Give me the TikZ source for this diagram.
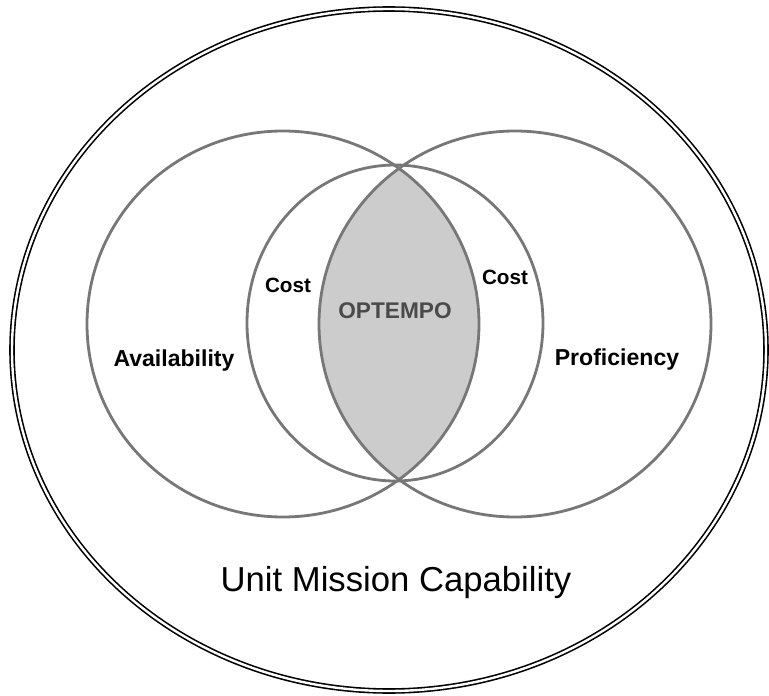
\documentclass[tikz,border=0pt]{standalone}
\usepackage{fontspec}
\setmainfont{Liberation Sans}
\usetikzlibrary{positioning}
\definecolor{ringgray}{HTML}{777777}
\definecolor{lensgray}{HTML}{CCCCCC}
\definecolor{optgray}{HTML}{4A4A4A}

\tikzset{
  ring/.style={draw=ringgray, line width=2.1pt},
  venntext/.style={font=\bfseries\fontsize{17.3}{20}\selectfont, inner sep=0pt},
  costtext/.style={font=\bfseries\fontsize{15.5}{18}\selectfont, inner sep=0pt}
}

\begin{document}
\begin{tikzpicture}[x=0.75pt,y=-0.75pt]
        \useasboundingbox (0,0) rectangle (769,696);

        \begin{scope}
          \clip (283,324) ellipse [x radius=196, y radius=193];
          \fill[lensgray] (515,324) ellipse [x radius=196, y radius=193];
        \end{scope}

        \draw[ring] (283,324) ellipse [x radius=196, y radius=193];
        \draw[ring] (515,324) ellipse [x radius=196, y radius=193];
        \draw[ring] (395,323) ellipse [x radius=148, y radius=158];

        \draw[double=white, double distance=1.8pt, line width=1.2pt]
        (389,350) ellipse [x radius=377, y radius=341];

        \node[venntext] (avail) at (174,361) {Availability};
        \node[venntext] (prof) at (617,360) {Proficiency};
        \node[costtext] (costl) at (288,285) {Cost};
        \node[costtext] (costr) at (505,277) {Cost};
        \node[font=\bfseries\fontsize{17}{20}\selectfont, text=optgray,
        inner sep=0pt] (optempo) at (395,311) {OPTEMPO};
        \node[font=\fontsize{26}{30}\selectfont, inner sep=0pt] (umc)
        at (396,583) {Unit Mission Capability};
      \end{tikzpicture}
\end{document}
